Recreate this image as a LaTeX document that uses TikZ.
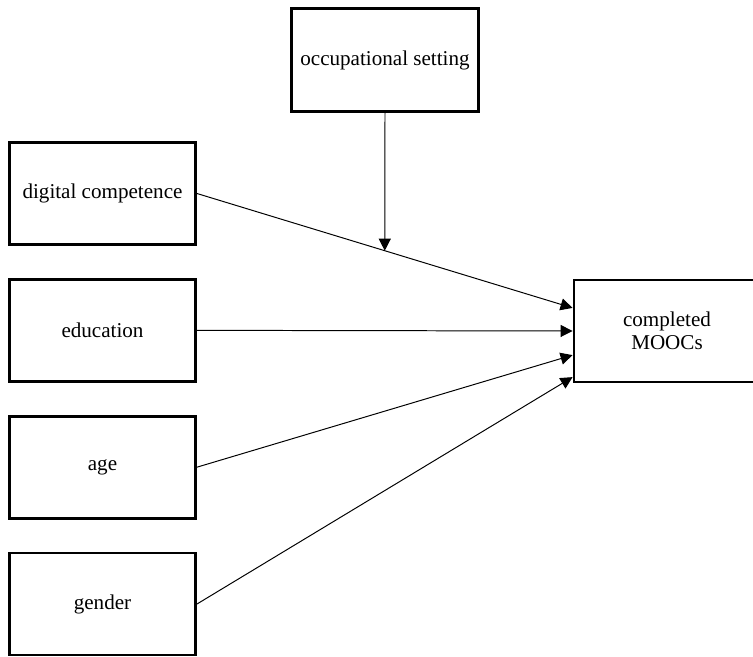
\documentclass[tikz,border=0pt]{standalone}
\usepackage{fontspec}
\setmainfont{Liberation Serif}
\usepackage{tikz}
\usetikzlibrary{arrows.meta,positioning,calc}

\begin{document}
\begin{tikzpicture}[
    x=0.025cm, y=0.025cm,
    node distance=0.8cm,
    font=\fontsize{15}{16.5}\selectfont,
    varbox/.style={rectangle, minimum width=4.65cm, minimum height=2.55cm, text centered, align=center, draw=black, line width=2pt},
    arrow/.style={line width=0.7pt, -{Triangle[length=0.3cm, width=0.3cm]}}
]
\clip (0,0) rectangle (753,656);

\node (digital) [varbox] at (102.5,462.5) {digital competence};
\node (education) [varbox, below=of digital] {education};
\node (age) [varbox, below=of education] {age};
\node (gender) [varbox, below=of age] {gender};
\node (occupation) [varbox, minimum width=4.675cm, minimum height=2.575cm] at (385,596) {occupational setting};
\node (moocs) [varbox] at (667,325) {completed\\MOOCs};

% entry points on the outcome box
\coordinate (in1) at ($(moocs.north west)!0.28!(moocs.south west)$);
\coordinate (in2) at (moocs.west);
\coordinate (in3) at ($(moocs.north west)!0.73!(moocs.south west)$);
\coordinate (in4) at ($(moocs.north west)!0.94!(moocs.south west)$);

\draw [arrow] (digital.east) -- (in1);
\draw [arrow] (education.east) -- (in2);
\draw [arrow] (age.east) -- (in3);
\draw [arrow] (gender.east) -- (in4);

% moderator
\coordinate (mod) at ($(digital.east)!0.5!(in1)$);
\draw [arrow] (occupation.south) -- (mod);

\end{tikzpicture}
\end{document}
